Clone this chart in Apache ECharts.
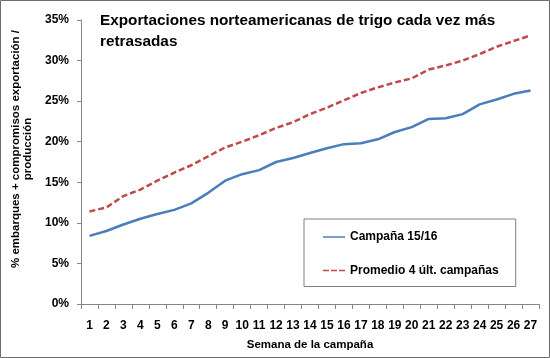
<!DOCTYPE html>
<html><head><meta charset="utf-8">
<script src="https://cdn.jsdelivr.net/npm/echarts@6/dist/echarts.min.js"></script>
<style>html,body{margin:0;padding:0;background:#fff}#c{width:550px;height:358px}</style>
</head><body><div id="c"></div>
<script>
var weeks = ['1','2','3','4','5','6','7','8','9','10','11','12','13','14','15','16','17','18','19','20','21','22','23','24','25','26','27'];
var campana = [8.4, 9.0, 9.8, 10.5, 11.1, 11.6, 12.4, 13.7, 15.2, 16.0, 16.5, 17.5, 18.0, 18.6, 19.2, 19.7, 19.8, 20.3, 21.2, 21.8, 22.8, 22.9, 23.4, 24.6, 25.2, 25.9, 26.3];
var promedio = [11.4, 11.9, 13.3, 14.1, 15.2, 16.2, 17.1, 18.2, 19.3, 20.0, 20.8, 21.7, 22.4, 23.4, 24.2, 25.1, 26.0, 26.7, 27.3, 27.8, 28.9, 29.4, 30.0, 30.8, 31.7, 32.4, 33.1];
var seriesNames = ['Campaña 15/16', 'Promedio 4 últ. campañas'];
var titleText = 'Exportaciones norteamericanas de trigo cada vez más\nretrasadas';
var yName = '% embarques + compromisos exportación /\nproducción';
var xName = 'Semana de la campaña';

var FONT = '"Liberation Sans", Arial, sans-serif';
var chart = echarts.init(document.getElementById('c'), null, {renderer: 'canvas'});
chart.setOption({
  backgroundColor: '#fff',
  animation: false,
  graphic: [{type: 'rect', shape: {x: 0.5, y: 0.5, width: 549, height: 357}, style: {fill: 'none', stroke: '#6e6e6e', lineWidth: 1}, silent: true}],
  title: {
    text: titleText, left: 100, top: 10, padding: 0,
    textStyle: {fontFamily: FONT, fontWeight: 'bold', fontSize: 15.3, lineHeight: 21, color: '#000'}
  },
  grid: {left: 81, right: 11, top: 20, bottom: 54, containLabel: false},
  legend: {
    orient: 'vertical', left: 304, top: 219,
    padding: [12, 17, 10, 19], itemGap: 21.5, itemWidth: 22, itemHeight: 8,
    borderColor: '#808080', borderWidth: 1, backgroundColor: '#fff',
    textStyle: {fontFamily: FONT, fontWeight: 'bold', fontSize: 12, color: '#000'},
    data: [{name: seriesNames[0], icon: 'path://M0,3.5 L22,3.5 L22,5 L0,5 Z'}, {name: seriesNames[1], icon: 'path://M0,3.5 L6,3.5 L6,5 L0,5 Z M8,3.5 L14,3.5 L14,5 L8,5 Z M16,3.5 L22,3.5 L22,5 L16,5 Z'}]
  },
  xAxis: {
    type: 'category', data: weeks, boundaryGap: true,
    name: xName, nameLocation: 'middle', nameGap: 35,
    nameTextStyle: {fontFamily: FONT, fontWeight: 'bold', fontSize: 11.5, color: '#000'},
    axisLine: {lineStyle: {color: '#868686', width: 1}},
    axisTick: {show: true, length: 5, lineStyle: {color: '#868686'}},
    axisLabel: {interval: 0, fontFamily: FONT, fontWeight: 'bold', fontSize: 12, color: '#000', margin: 16},
    splitLine: {show: false}
  },
  yAxis: {
    type: 'value', min: 0, max: 35, interval: 5,
    name: yName, nameLocation: 'middle', nameGap: 46, nameRotate: 90,
    nameTextStyle: {fontFamily: FONT, fontWeight: 'bold', fontSize: 11.5, lineHeight: 12, color: '#000', padding: [0, 0, 0, 26]},
    axisLine: {show: true, lineStyle: {color: '#868686', width: 1}},
    axisTick: {show: true, length: 4, lineStyle: {color: '#868686'}},
    axisLabel: {formatter: '{value}%', fontFamily: FONT, fontWeight: 'bold', fontSize: 12, color: '#000', margin: 12},
    splitLine: {show: false}
  },
  series: [
    {name: seriesNames[0], type: 'line', data: campana, symbol: 'none', color: '#4a7ebb',
     lineStyle: {color: '#4a7ebb', width: 2.5}},
    {name: seriesNames[1], type: 'line', data: promedio, symbol: 'none', color: '#be4b48',
     lineStyle: {color: '#be4b48', width: 2.5, type: [6, 3]}}
  ]
});
</script></body></html>
